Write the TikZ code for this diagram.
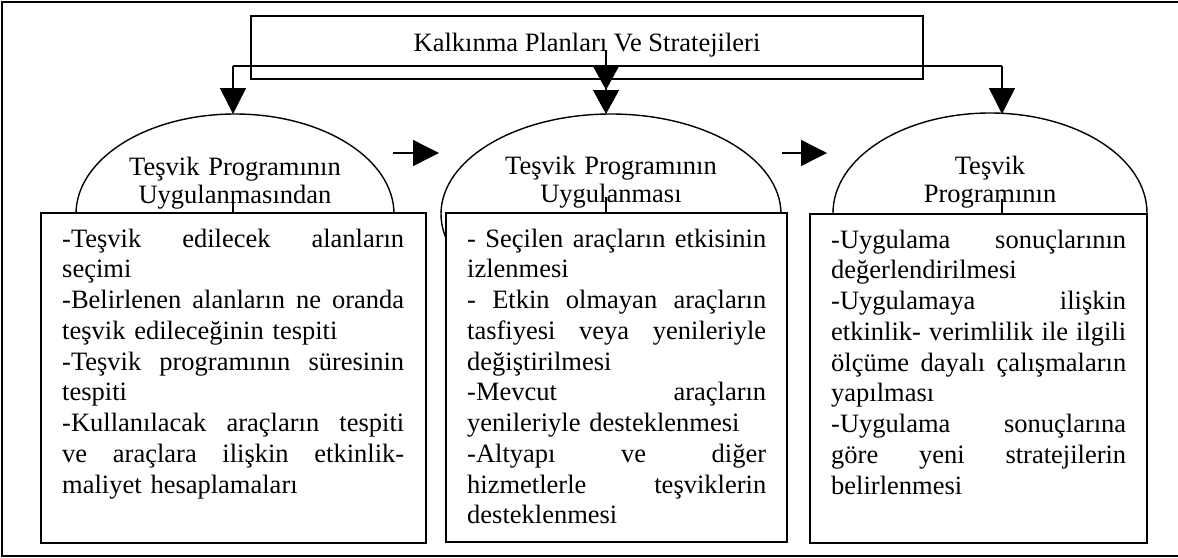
\documentclass[tikz,border=0pt]{standalone}
\usepackage{fontspec}
\setmainfont{Liberation Serif}
\usetikzlibrary{arrows.meta,shapes.geometric}
\newcommand\jw{300pt}
\newcommand\jline[1]{\leavevmode\hbox to \jw{#1}}
\newcommand\gap{\hfill}
\begin{document}
\begin{tikzpicture}[x=1pt,y=-1pt,
  frame/.style={line width=2.4pt},
  boxline/.style={draw, line width=1.7pt, fill=white, inner sep=0pt},
  oval/.style={draw, ellipse, line width=1.4pt, inner sep=0pt},
  conn/.style={line width=1.4pt},
  arr/.style={conn, -{Triangle[length=26pt,width=26pt]}},
  arrs/.style={conn, -{Triangle[length=24pt,width=26pt]}},
  body/.style={font=\fontsize{26.5}{30.75}\selectfont, inner sep=0pt, align=left, anchor=base west},
  head/.style={font=\fontsize{26.5}{28}\selectfont, inner sep=0pt, align=center, anchor=base, text width=320pt},
]
\useasboundingbox (0,0) rectangle (1178,557);
% outer frame
\draw[frame] (1180,2) -- (2,2) -- (2,556) -- (1180,556);

% top box
\node[draw, line width=1.6pt, minimum width=672pt, minimum height=63pt, inner sep=0pt] (topbox) at (587,47.5) {};
\node[font=\fontsize{26.5}{30}\selectfont, inner sep=0pt, anchor=base] (toplabel) at (587,51) {Kalkınma Planları Ve Stratejileri};

% ellipses
\node[oval, minimum width=318pt, minimum height=200pt] (e1) at (235,214) {};
\node[oval, minimum width=340pt, minimum height=200pt] (e2) at (611,214) {};
\node[oval, minimum width=314pt, minimum height=200pt] (e3) at (990,213) {};

% rectangles
\node[boxline, minimum width=385pt, minimum height=330pt] (r1) at (233.5,378) {};
\node[boxline, minimum width=341pt, minimum height=329pt] (r2) at (616.5,377.5) {};
\node[boxline, minimum width=337pt, minimum height=329pt] (r3) at (978.5,378.5) {};

% connector coordinates
\coordinate (jl) at (233,66);
\coordinate (jm) at (606,66);
\coordinate (jr) at (1002,66);
\coordinate (t1) at (233,114);
\coordinate (t2) at (606,114);
\coordinate (t3) at (1002,114);
\coordinate (m0) at (606,50);
\coordinate (m1) at (606,90);
\coordinate (h1a) at (393,153);
\coordinate (h1b) at (439,153);
\coordinate (h2a) at (782,153);
\coordinate (h2b) at (827,153);
\coordinate (s1) at (233,197);
\coordinate (s2) at (606,197);
\coordinate (s3) at (1002,199);

\draw[conn] (jl) -- (jr);
\draw[arr] (jl) -- (t1);
\draw[arr] (jr) -- (t3);
\draw[arrs] (m0) -- (m1);
\draw[arrs] (jm) -- (t2);
\draw[arr] (h1a) -- (h1b);
\draw[arr] (h2a) -- (h2b);

% ellipse texts
\node[head] (l1) at (235,175) {Teşvik Programının\\Uygulanmasından};
\node[head] (l2) at (611,174) {Teşvik Programının\\Uygulanması};
\node[head] (l3) at (990,174) {Teşvik\\Programının};

% stems
\draw[conn] (s1) -- (s1 |- r1.north);
\draw[conn] (s2) -- (s2 |- r2.north);
\draw[conn] (s3) -- (s3 |- r3.north);

% body texts
\node[body, text width=342pt] (b1) at (62,247) {\renewcommand\jw{342pt}%
\jline{-Teşvik\gap edilecek\gap alanların}\\
seçimi\\
\jline{-Belirlenen\gap alanların\gap ne\gap oranda}\\
teşvik edileceğinin tespiti\\
\jline{-Teşvik\gap programının\gap süresinin}\\
tespiti\\
\jline{-Kullanılacak\gap araçların\gap tespiti}\\
\jline{ve\gap araçlara\gap ilişkin\gap etkinlik-}\\
maliyet hesaplamaları};

\node[body, text width=299pt] (b2) at (467,247) {\renewcommand\jw{299pt}%
\jline{-\gap Seçilen\gap araçların\gap etkisinin}\\
izlenmesi\\
\jline{-\gap Etkin\gap olmayan\gap araçların}\\
\jline{tasfiyesi\gap veya\gap yenileriyle}\\
değiştirilmesi\\
\jline{-Mevcut\gap araçların}\\
yenileriyle desteklenmesi\\
\jline{-Altyapı\gap ve\gap diğer}\\
\jline{hizmetlerle\gap teşviklerin}\\
desteklenmesi};

\node[body, text width=295pt] (b3) at (831,248) {\renewcommand\jw{295pt}%
\jline{-Uygulama\gap sonuçlarının}\\
değerlendirilmesi\\
\jline{-Uygulamaya\gap ilişkin}\\
\jline{etkinlik-\gap verimlilik\gap ile\gap ilgili}\\
\jline{ölçüme\gap dayalı\gap çalışmaların}\\
yapılması\\
\jline{-Uygulama\gap sonuçlarına}\\
\jline{göre\gap yeni\gap stratejilerin}\\
belirlenmesi};
\end{tikzpicture}
\end{document}
